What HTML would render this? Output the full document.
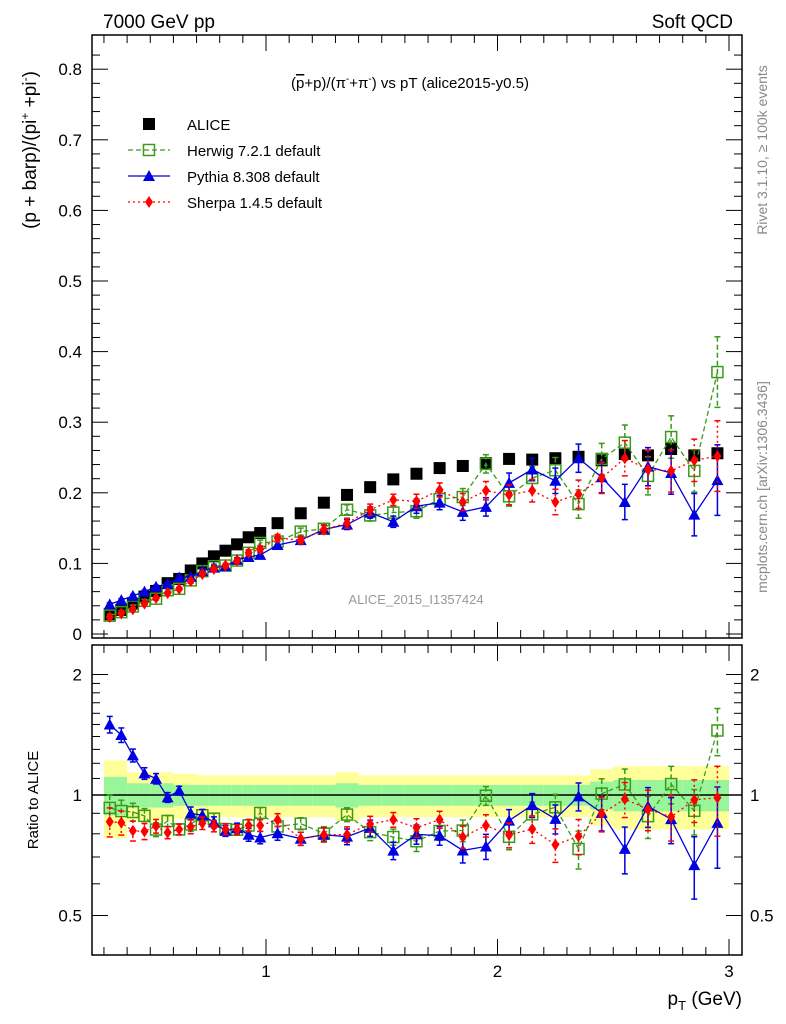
<!DOCTYPE html>
<html><head><meta charset="utf-8">
<style>
body{margin:0;background:#fff;}
svg{display:block;font-family:"Liberation Sans",sans-serif;}
</style></head>
<body>
<svg id="c" width="786" height="1024" viewBox="0 0 786 1024" xmlns="http://www.w3.org/2000/svg">
<text x="103" y="28" font-size="19">7000 GeV pp</text>
<text x="733" y="28" font-size="19" text-anchor="end">Soft QCD</text>
<text x="410" y="88" font-size="15" text-anchor="middle">(<tspan text-decoration="overline">p</tspan>+p)/(π<tspan font-size="10" dy="-6">-</tspan><tspan dy="6">+π</tspan><tspan font-size="10" dy="-6">-</tspan><tspan dy="6">) vs pT (alice2015-y0.5)</tspan></text>
<text transform="translate(36,150) rotate(-90)" font-size="19" text-anchor="middle">(p + barp)/(pi<tspan font-size="12" dy="-7">+</tspan><tspan dy="7"> +pi</tspan><tspan font-size="12" dy="-7">-</tspan><tspan dy="7">)</tspan></text>
<text transform="translate(38,800) rotate(-90)" font-size="15" text-anchor="middle">Ratio to ALICE</text>
<text x="742" y="1005" font-size="19" text-anchor="end">p<tspan font-size="13" dy="5">T</tspan><tspan dy="-5"> (GeV)</tspan></text>
<text transform="translate(767,150) rotate(-90)" font-size="14" fill="#888" text-anchor="middle">Rivet 3.1.10, ≥ 100k events</text>
<text transform="translate(767,487) rotate(-90)" font-size="14" fill="#888" text-anchor="middle">mcplots.cern.ch [arXiv:1306.3436]</text>
<text x="416" y="604" font-size="13" fill="#999" text-anchor="middle">ALICE_2015_I1357424</text>
<g id="g"></g>
</svg>
<script>
const xs=[0.325,0.375,0.425,0.475,0.525,0.575,0.625,0.675,0.725,0.775,0.825,0.875,0.925,0.975,1.05,1.15,1.25,1.35,1.45,1.55,1.65,1.75,1.85,1.95,2.05,2.15,2.25,2.35,2.45,2.55,2.65,2.75,2.85,2.95];
const alice=[0.028,0.034,0.043,0.053,0.061,0.072,0.078,0.09,0.1,0.11,0.118,0.127,0.137,0.143,0.157,0.171,0.186,0.197,0.208,0.219,0.227,0.235,0.238,0.242,0.248,0.247,0.249,0.251,0.246,0.255,0.253,0.262,0.253,0.256];
const aliceRelBand=[0.22,0.22,0.14,0.14,0.14,0.14,0.13,0.13,0.12,0.12,0.12,0.12,0.12,0.12,0.12,0.12,0.12,0.14,0.12,0.12,0.12,0.12,0.12,0.12,0.12,0.12,0.12,0.12,0.16,0.18,0.18,0.18,0.18,0.18];
const aliceRelInner=[0.11,0.11,0.07,0.07,0.07,0.07,0.06,0.06,0.06,0.06,0.06,0.06,0.06,0.06,0.06,0.06,0.06,0.07,0.06,0.06,0.06,0.06,0.06,0.06,0.06,0.06,0.06,0.06,0.08,0.09,0.09,0.09,0.09,0.09];
const herwig=[0.026,0.031,0.039,0.047,0.05,0.062,0.064,0.076,0.089,0.096,0.097,0.104,0.115,0.129,0.131,0.145,0.149,0.176,0.168,0.172,0.174,0.191,0.194,0.241,0.195,0.221,0.232,0.184,0.248,0.271,0.224,0.279,0.231,0.371];
const pythia=[0.042,0.048,0.054,0.06,0.067,0.071,0.08,0.081,0.089,0.094,0.096,0.105,0.109,0.112,0.126,0.133,0.148,0.155,0.172,0.159,0.181,0.186,0.173,0.18,0.214,0.233,0.217,0.249,0.222,0.187,0.237,0.228,0.169,0.218];
const sherpa=[0.024,0.029,0.035,0.043,0.051,0.058,0.064,0.075,0.085,0.092,0.097,0.104,0.115,0.12,0.136,0.133,0.148,0.157,0.176,0.19,0.188,0.204,0.187,0.203,0.197,0.203,0.187,0.198,0.221,0.249,0.233,0.231,0.246,0.252];
const mcErr=[0.002,0.002,0.002,0.002,0.002,0.002,0.002,0.003,0.003,0.003,0.003,0.003,0.004,0.004,0.005,0.005,0.006,0.007,0.008,0.008,0.01,0.01,0.012,0.013,0.014,0.016,0.018,0.02,0.022,0.025,0.027,0.03,0.03,0.05];
const yTicks=[0,0.1,0.2,0.3,0.4,0.5,0.6,0.7,0.8];
const yTickLabels=["0","0.1","0.2","0.3","0.4","0.5","0.6","0.7","0.8"];
const rTicks=[0.5,1,2];
const rTickLabels=["0.5","1","2"];
const xTicks=[1,2,3];
const xTickLabels=["1","2","3"];

const L=92,R=742,MT=35,MB=638,RT=645,RB=955;
const X=v=>266+(v-1)*231.5;
const Y=v=>634-v*706;
const YR=r=>795-Math.log2(r)*120.5;
const g=document.getElementById('g');
const NS='http://www.w3.org/2000/svg';
function el(t,a,p){const e=document.createElementNS(NS,t);for(const k in a)e.setAttribute(k,a[k]);(p||g).appendChild(e);return e;}

// ratio bands
for(let i=0;i<xs.length;i++){
  const x0=X(xs[i]-(xs[i]<1?0.025:0.05)),x1=X(xs[i]+(xs[i]<1?0.025:0.05));
  const b=el('rect',{x:x0,y:YR(1+aliceRelBand[i]),width:x1-x0,height:YR(1-aliceRelBand[i])-YR(1+aliceRelBand[i]),fill:'#ffff99'});
  
  
  const c=el('rect',{x:x0,y:YR(1+aliceRelInner[i]),width:x1-x0,height:YR(1-aliceRelInner[i])-YR(1+aliceRelInner[i]),fill:'#99f599'});
  
  
}
const one=el('line',{x1:L,x2:R,y1:YR(1),y2:YR(1),stroke:'#000','stroke-width':1.5});



// frames
for(const [t,b,nm] of [[MT,MB,'main-frame'],[RT,RB,'ratio-frame']]){
  const f=el('rect',{x:L,y:t,width:R-L,height:b-t,fill:'none',stroke:'#000','stroke-width':1.5});
  
  
}
// x ticks
for(const [t,b] of [[MT,MB],[RT,RB]]){
  for(let v=0.3;v<=3.05;v+=0.1){
    const maj=xTicks.some(m=>Math.abs(m-v)<1e-6);
    const len=maj?16:8;
    el('line',{x1:X(v),x2:X(v),y1:b,y2:b-len,stroke:'#000'});
    el('line',{x1:X(v),x2:X(v),y1:t,y2:t+len,stroke:'#000'});
  }
}
xTicks.forEach((v,i)=>{const t=el('text',{x:X(v),y:977,'font-size':17,'text-anchor':'middle'});t.textContent=xTickLabels[i];

});
// main y ticks
for(let v=0;v<=0.84;v+=0.02){
  const maj=Math.abs(v*10-Math.round(v*10))<1e-6;const len=maj?16:8;
  el('line',{x1:L,x2:L+len,y1:Y(v),y2:Y(v),stroke:'#000'});
  el('line',{x1:R,x2:R-len,y1:Y(v),y2:Y(v),stroke:'#000'});
}
yTicks.forEach((v,i)=>{const t=el('text',{x:82,y:Y(v)+6,'font-size':17,'text-anchor':'end'});t.textContent=yTickLabels[i];

});
// ratio ticks
const rm=[0.5,0.6,0.7,0.8,0.9,1,1.1,1.2,1.3,1.4,1.5,1.6,1.7,1.8,1.9,2];
rm.forEach(v=>{const maj=rTicks.includes(v);const len=maj?16:8;
  el('line',{x1:L,x2:L+len,y1:YR(v),y2:YR(v),stroke:'#000'});
  el('line',{x1:R,x2:R-len,y1:YR(v),y2:YR(v),stroke:'#000'});});
rTicks.forEach((v,i)=>{
  const t=el('text',{x:82,y:YR(v)+6,'font-size':17,'text-anchor':'end'});t.textContent=rTickLabels[i];
  
  
  const t2=el('text',{x:750,y:YR(v)+6,'font-size':17});t2.textContent=rTickLabels[i];
  
  
});

function marker(type,x,y,col,parent){
  if(type==='sq') return el('rect',{x:x-5.5,y:y-5.5,width:11,height:11,fill:'none',stroke:col,'stroke-width':1.5},parent);
  if(type==='tri') return el('polygon',{points:`${x},${y-6} ${x-6},${y+5} ${x+6},${y+5}`,fill:col},parent);
  if(type==='dia') return el('polygon',{points:`${x},${y-6} ${x-4},${y} ${x},${y+6} ${x+4},${y}`,fill:col},parent);
  if(type==='bsq') return el('rect',{x:x-6,y:y-6,width:12,height:12,fill:col},parent);
}
const series=[
 {name:'herwig',vals:herwig,col:'#3a9a1a',dash:'5,3',m:'sq'},
 {name:'pythia',vals:pythia,col:'#0000e0',dash:'',m:'tri'},
 {name:'sherpa',vals:sherpa,col:'#ff0000',dash:'2,3',m:'dia'}];
// data clip
const defs=el('defs',{});
const cp=el('clipPath',{id:'cm'},defs);el('rect',{x:L,y:MT,width:R-L,height:MB-MT},cp);
const cr=el('clipPath',{id:'cr'},defs);el('rect',{x:L,y:RT,width:R-L,height:RB-RT},cr);

// alice main
alice.forEach((v,i)=>{const m=marker('bsq',X(xs[i]),Y(v),'#000');

});

series.forEach(s=>{
  for(const ratio of [false,true]){
    const grp=el('g',{'clip-path':ratio?'url(#cr)':'url(#cm)'});
    
    
    const fy=(i,d)=>ratio?YR((s.vals[i]+d)/alice[i]):Y(s.vals[i]+d);
    const pts=xs.map((x,i)=>X(x)+','+fy(i,0)).join(' ');
    el('polyline',{points:pts,fill:'none',stroke:s.col,'stroke-width':1.3,'stroke-dasharray':s.dash},grp);
    xs.forEach((x,i)=>{
      const e=mcErr[i];
      el('line',{x1:X(x),x2:X(x),y1:fy(i,e),y2:fy(i,-e),stroke:s.col,'stroke-width':1.5,'stroke-dasharray':s.dash},grp);
      el('line',{x1:X(x)-3,x2:X(x)+3,y1:fy(i,e),y2:fy(i,e),stroke:s.col,'stroke-width':1.5},grp);
      el('line',{x1:X(x)-3,x2:X(x)+3,y1:fy(i,-e),y2:fy(i,-e),stroke:s.col,'stroke-width':1.5},grp);
      const m=marker(s.m,X(x),fy(i,0),s.col,grp);
      
      
    });
  }
});

// legend
const leg=[['ALICE','#000','bsq',''],['Herwig 7.2.1 default','#3a9a1a','sq','5,3'],['Pythia 8.308 default','#0000e0','tri',''],['Sherpa 1.4.5 default','#ff0000','dia','2,3']];
leg.forEach((l,i)=>{
  const y=124+i*26;
  const lg=el('g',{});
  
  
  if(i>0) el('line',{x1:128,x2:170,y1:y,y2:y,stroke:l[1],'stroke-width':1.3,'stroke-dasharray':l[3]},lg);
  marker(l[2],149,y,l[1],lg);
  const t=el('text',{x:187,y:y+6,'font-size':15},lg);t.textContent=l[0];
});
</script>
</body></html>
